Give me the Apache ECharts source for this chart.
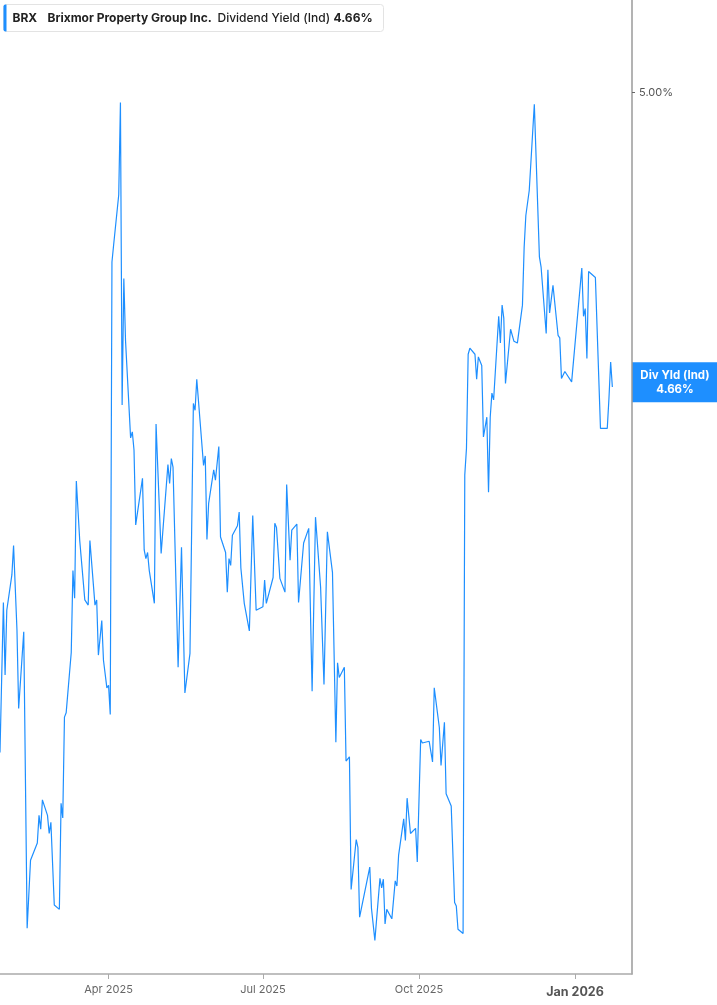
<!DOCTYPE html>
<html><head><meta charset="utf-8">
<script src="https://cdn.jsdelivr.net/npm/echarts@6/dist/echarts.min.js"></script>
<style>html,body{margin:0;padding:0;background:#fff}#c{width:717px;height:1005px}</style>
</head><body><div id="c"></div>
<script>
const dates = [
'2025-01-27','2025-01-29','2025-01-30','2025-01-31','2025-02-03','2025-02-04','2025-02-06','2025-02-07','2025-02-10','2025-02-12',
'2025-02-14','2025-02-18','2025-02-19','2025-02-20','2025-02-21','2025-02-24','2025-02-25','2025-02-26','2025-02-28','2025-03-03',
'2025-03-04','2025-03-05','2025-03-06','2025-03-07','2025-03-10','2025-03-11','2025-03-12','2025-03-13','2025-03-15','2025-03-18',
'2025-03-20','2025-03-21','2025-03-24','2025-03-25','2025-03-26','2025-03-28','2025-03-29','2025-03-31','2025-04-01','2025-04-02',
'2025-04-03','2025-04-04','2025-04-07','2025-04-08','2025-04-09','2025-04-10','2025-04-11','2025-04-14','2025-04-15','2025-04-16',
'2025-04-17','2025-04-21','2025-04-22','2025-04-23','2025-04-24','2025-04-25','2025-04-28','2025-04-29','2025-04-30','2025-05-02',
'2025-05-06','2025-05-07','2025-05-08','2025-05-09','2025-05-12','2025-05-14','2025-05-16','2025-05-19','2025-05-21','2025-05-22',
'2025-05-23','2025-05-27','2025-05-28','2025-05-29','2025-05-30','2025-06-02','2025-06-03','2025-06-05','2025-06-06','2025-06-09',
'2025-06-10','2025-06-11','2025-06-12','2025-06-13','2025-06-16','2025-06-17','2025-06-18','2025-06-20','2025-06-23','2025-06-25',
'2025-06-27','2025-07-01','2025-07-02','2025-07-03','2025-07-07','2025-07-08','2025-07-09','2025-07-11','2025-07-14','2025-07-15',
'2025-07-17','2025-07-18','2025-07-21','2025-07-22','2025-07-23','2025-07-25','2025-07-28','2025-07-30','2025-08-01','2025-08-04',
'2025-08-06','2025-08-08','2025-08-11','2025-08-13','2025-08-14','2025-08-15','2025-08-18','2025-08-19','2025-08-20','2025-08-21',
'2025-08-22','2025-08-25','2025-08-26','2025-08-27','2025-08-28','2025-09-02','2025-09-03','2025-09-05','2025-09-08','2025-09-09',
'2025-09-10','2025-09-11','2025-09-12','2025-09-15','2025-09-17','2025-09-18','2025-09-19','2025-09-22','2025-09-23','2025-09-24',
'2025-09-26','2025-09-29','2025-09-30','2025-10-02','2025-10-03','2025-10-07','2025-10-09','2025-10-10','2025-10-13','2025-10-14',
'2025-10-15','2025-10-16','2025-10-17','2025-10-20','2025-10-22','2025-10-23','2025-10-24','2025-10-27','2025-10-28','2025-10-29',
'2025-10-30','2025-10-31','2025-11-03','2025-11-04','2025-11-05','2025-11-06','2025-11-07','2025-11-08','2025-11-10','2025-11-11',
'2025-11-12','2025-11-13','2025-11-14','2025-11-17','2025-11-18','2025-11-19','2025-11-20','2025-11-21','2025-11-24','2025-11-26',
'2025-11-28','2025-12-01','2025-12-02','2025-12-03','2025-12-05','2025-12-08','2025-12-11','2025-12-12','2025-12-15','2025-12-16',
'2025-12-17','2025-12-19','2025-12-22','2025-12-23','2025-12-24','2025-12-26','2025-12-30','2026-01-05','2026-01-06','2026-01-07',
'2026-01-08','2026-01-09','2026-01-13','2026-01-16','2026-01-20','2026-01-21','2026-01-22','2026-01-23'
];
const yields = [
4.234,4.408,4.324,4.399,4.440,4.474,4.376,4.285,4.374,4.030,
4.109,4.129,4.161,4.145,4.179,4.161,4.140,4.153,4.057,4.052,
4.175,4.158,4.275,4.280,4.350,4.445,4.413,4.549,4.480,4.411,
4.405,4.480,4.405,4.411,4.347,4.387,4.341,4.309,4.312,4.278,
4.803,4.823,4.881,4.988,4.637,4.784,4.712,4.599,4.606,4.585,
4.498,4.552,4.469,4.459,4.466,4.445,4.407,4.615,4.614,4.465,
4.568,4.546,4.575,4.565,4.333,4.472,4.303,4.349,4.639,4.631,
4.667,4.567,4.578,4.481,4.523,4.562,4.550,4.589,4.484,4.466,
4.420,4.459,4.451,4.486,4.497,4.513,4.448,4.407,4.375,4.509,
4.399,4.403,4.434,4.407,4.437,4.500,4.495,4.436,4.420,4.545,
4.457,4.492,4.499,4.408,4.410,4.477,4.494,4.305,4.507,4.426,
4.313,4.490,4.443,4.246,4.338,4.321,4.333,4.224,4.224,4.229,
4.075,4.133,4.124,4.043,4.045,4.101,4.053,4.016,4.088,4.077,
4.087,4.035,4.052,4.041,4.085,4.079,4.115,4.157,4.132,4.181,
4.140,4.146,4.107,4.249,4.245,4.247,4.223,4.309,4.263,4.219,
4.218,4.269,4.186,4.172,4.060,4.056,4.029,4.024,4.556,4.587,
4.696,4.703,4.696,4.667,4.693,4.688,4.683,4.600,4.623,4.536,
4.623,4.651,4.643,4.740,4.709,4.753,4.738,4.662,4.725,4.711,
4.709,4.753,4.820,4.857,4.886,4.986,4.809,4.797,4.720,4.794,
4.744,4.776,4.718,4.715,4.668,4.676,4.664,4.796,4.740,4.749,
4.691,4.792,4.785,4.610,4.610,4.645,4.687,4.658
];
const xTickDates = ['2025-04-01','2025-07-01','2025-10-01','2026-01-01'];
const xTickLabels = ['Apr 2025','Jul 2025','Oct 2025','Jan 2026'];
const yTickValues = [5.00];
const xRange = ['2025-01-27','2026-02-03'];
const yRange = [3.977, 5.107];
const ticker = 'BRX';
const company = 'Brixmor Property Group Inc.';
const metric = 'Dividend Yield (Ind)';
const metricShort = 'Div Yld (Ind)';
const latestValue = 4.66;

function ts(s){const p=s.split('-').map(Number);return new Date(p[0],p[1]-1,p[2]).getTime();}
const BLUE = '#1e8fff';
const FONT = 'Inter, Roboto, sans-serif';
const tickTs = xTickDates.map(ts);

const chart = echarts.init(document.getElementById('c'), null, {renderer:'canvas'});
const option = {
  animation:false,
  backgroundColor:'#fff',
  grid:{left:0,right:85,top:0,bottom:31,outerBoundsMode:'none',containLabel:false},
  xAxis:{
    type:'value', min:ts(xRange[0]), max:ts(xRange[1])+14*3600*1000, scale:true,
    axisLine:{show:true,lineStyle:{color:'#aaaaaa',width:1.5}},
    axisTick:{show:true,customValues:tickTs,length:5,lineStyle:{color:'#aaaaaa'}},
    axisLabel:{
      customValues:tickTs, margin:10, fontSize:11, color:'#666', fontFamily:FONT,
      formatter:function(v){
        let best=0;for(let k=1;k<tickTs.length;k++){if(Math.abs(tickTs[k]-v)<Math.abs(tickTs[best]-v))best=k;}
        const t=xTickLabels[best];
        return t.indexOf('Jan')===0?'{b|'+t+'}':t;
      },
      rich:{b:{fontWeight:'bold',fontSize:12.5,color:'#555',fontFamily:FONT,padding:[2,0,0,0]}}
    },
    splitLine:{show:false}
  },
  yAxis:{
    type:'value', position:'right', min:yRange[0], max:yRange[1],
    axisLine:{show:true,lineStyle:{color:'#9a9a9a',width:1.5}},
    axisTick:{show:true,customValues:yTickValues,length:3,lineStyle:{color:'#666'}},
    axisLabel:{customValues:yTickValues,margin:7,fontSize:11,color:'#555',fontFamily:FONT,
      formatter:function(v){return Number(v).toFixed(2)+'%';}},
    splitLine:{show:false}
  },
  series:[{
    type:'line', name:metric, showSymbol:false, symbol:'none',
    lineStyle:{color:BLUE,width:1.2},
    data:dates.map((d,i)=>[ts(d),yields[i]])
  }]
};
chart.setOption(option);

const py = chart.convertToPixel({yAxisIndex:0}, latestValue);
const axisX = chart.getWidth()-85;
chart.setOption({graphic:[
  {type:'group',left:3,top:4,children:[
    {type:'rect',shape:{x:0,y:0,width:380,height:27,r:3},style:{fill:'#fff',stroke:'#e3e3e3',lineWidth:1}},
    {type:'rect',shape:{x:0,y:0,width:3,height:27,r:[2,0,0,2]},style:{fill:BLUE}},
    {type:'text',x:9,y:13.5,style:{text:ticker,font:'bold 12px '+FONT,fill:'#222',verticalAlign:'middle'}},
    {type:'text',x:44,y:13.5,style:{text:company,font:'bold 12px '+FONT,fill:'#222',verticalAlign:'middle'}},
    {type:'text',x:214,y:13.5,style:{text:metric,font:'500 12px '+FONT,fill:'#222',verticalAlign:'middle'}},
    {type:'text',x:330,y:13.5,style:{text:latestValue.toFixed(2)+'%',font:'bold 12px '+FONT,fill:'#222',verticalAlign:'middle'}}
  ]},
  {type:'group',x:axisX,y:py,children:[
    {type:'rect',shape:{x:0,y:-23,width:85,height:40},style:{fill:BLUE}},
    {type:'text',x:43,y:-10,style:{text:metricShort,font:'bold 11.5px '+FONT,fill:'#fff',align:'center',verticalAlign:'middle'}},
    {type:'text',x:43,y:4,style:{text:latestValue.toFixed(2)+'%',font:'bold 11.5px '+FONT,fill:'#fff',align:'center',verticalAlign:'middle'}}
  ]}
]});
</script>
</body></html>
